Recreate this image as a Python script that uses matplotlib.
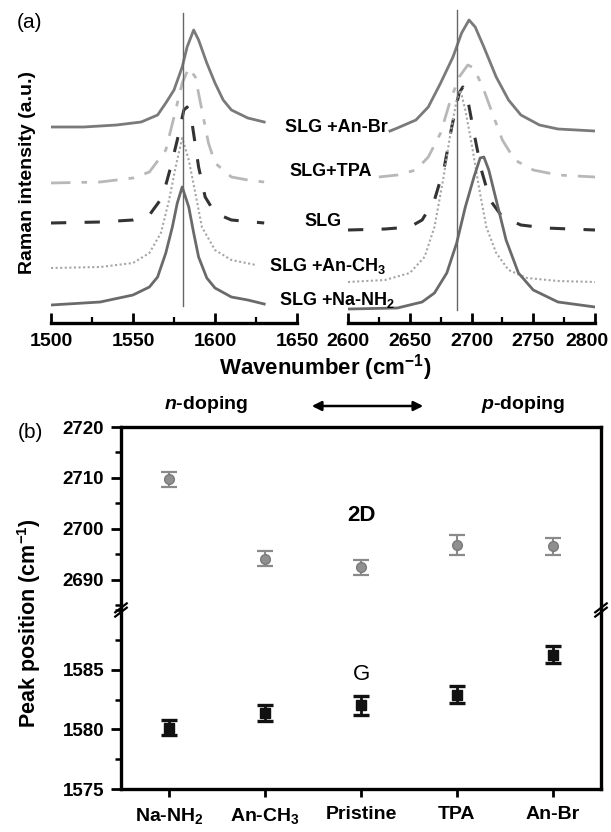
import numpy as np
import matplotlib.pyplot as plt
from matplotlib.ticker import MultipleLocator
from matplotlib.patches import FancyArrowPatch

plt.rcParams['font.family'] = ['Liberation Sans', 'DejaVu Sans']
plt.rcParams['font.weight'] = 'bold'
plt.rcParams['mathtext.fontset'] = 'custom'
plt.rcParams['mathtext.rm'] = 'Liberation Sans:bold'
plt.rcParams['mathtext.it'] = 'Liberation Sans:italic:bold'
plt.rcParams['mathtext.bf'] = 'Liberation Sans:bold'

# ---- panel (a): Raman spectra (intensity in a.u., offset stacked) ----
# G band region
anbr_g_x = [1500, 1520, 1540, 1555, 1565, 1570, 1575, 1580, 1583, 1587, 1590, 1595, 1600, 1605, 1610, 1620, 1630]
anbr_g_y = [196, 196, 198, 201, 208, 220, 233, 256, 276, 293, 283, 260, 240, 223, 213, 205, 201]
tpa_g_x = [1500, 1530, 1550, 1560, 1570, 1575, 1580, 1584, 1588, 1592, 1596, 1600, 1610, 1620, 1630]
tpa_g_y = [140, 141, 145, 151, 173, 206, 240, 255, 246, 213, 180, 160, 146, 143, 141]
slg_g_x = [1500, 1530, 1550, 1560, 1568, 1573, 1577, 1581, 1583, 1586, 1590, 1594, 1600, 1610, 1630]
slg_g_y = [100, 101, 103, 108, 126, 156, 183, 213, 216, 200, 156, 126, 110, 103, 100]
anch3_g_x = [1500, 1530, 1550, 1560, 1567, 1572, 1576, 1580, 1584, 1588, 1592, 1600, 1610, 1625]
anch3_g_y = [55, 56, 60, 70, 90, 123, 156, 185, 163, 130, 96, 73, 63, 58]
nanh2_g_x = [1500, 1530, 1550, 1560, 1565, 1570, 1574, 1577, 1580, 1584, 1587, 1590, 1595, 1600, 1610, 1620, 1630]
nanh2_g_y = [18, 21, 28, 36, 46, 70, 96, 120, 136, 116, 90, 66, 45, 35, 26, 23, 19]

# 2D band region
anbr_2d_x = [2634, 2640, 2655, 2665, 2675, 2685, 2692, 2698, 2703, 2710, 2720, 2730, 2740, 2755, 2770, 2800]
anbr_2d_y = [192, 195, 203, 216, 240, 266, 290, 303, 296, 276, 246, 223, 208, 198, 194, 192]
tpa_2d_x = [2625, 2640, 2655, 2665, 2675, 2683, 2690, 2697, 2702, 2710, 2718, 2725, 2735, 2750, 2770, 2800]
tpa_2d_y = [146, 148, 153, 166, 190, 223, 246, 258, 255, 233, 206, 183, 163, 153, 148, 146]
slg_2d_x = [2600, 2630, 2650, 2660, 2670, 2678, 2684, 2690, 2693, 2697, 2702, 2708, 2715, 2725, 2740, 2760, 2800]
slg_2d_y = [93, 94, 96, 103, 123, 156, 196, 230, 236, 223, 190, 153, 123, 106, 98, 95, 93]
anch3_2d_x = [2600, 2630, 2650, 2662, 2670, 2677, 2683, 2688, 2691, 2695, 2700, 2706, 2712, 2720, 2730, 2745, 2770, 2800]
anch3_2d_y = [41, 43, 50, 66, 96, 143, 190, 223, 233, 213, 180, 136, 96, 70, 53, 45, 42, 41]
nanh2_2d_x = [2600, 2640, 2660, 2670, 2680, 2688, 2695, 2702, 2707, 2710, 2714, 2720, 2728, 2738, 2750, 2770, 2800]
nanh2_2d_y = [14, 15, 21, 30, 50, 80, 116, 146, 165, 166, 153, 123, 83, 50, 33, 21, 16]

g_ref = 1580.5
d_ref = 2688.5

curve_labels = ['SLG +An-Br', 'SLG+TPA', 'SLG', r'SLG +An-CH$_3$', r'SLG +Na-NH$_2$']

g_ticks = [1500, 1550, 1600, 1650]
d_ticks = [2600, 2650, 2700, 2750, 2800]

# ---- panel (b): peak positions ----
samples = [r'Na-NH$_2$', r'An-CH$_3$', 'Pristine', 'TPA', 'An-Br']
pos_2d = [2709.7, 2694.1, 2692.4, 2696.8, 2696.5]
err_2d = [1.5, 1.5, 1.5, 1.9, 1.6]
pos_g = [1580.15, 1581.35, 1582.0, 1582.9, 1586.25]
err_g = [0.6, 0.65, 0.8, 0.7, 0.7]

W, H = 611, 832
fig = plt.figure(figsize=(W / 100, H / 100), dpi=100)


def box(x0, y0, x1, y1):
    return [x0 / W, 1 - y1 / H, (x1 - x0) / W, (y1 - y0) / H]


def fx(px):
    return px / W


def fy(py):
    return 1 - py / H


styles = [
    dict(color='#7a7a7a', lw=2.0, ls='-'),
    dict(color='#b8b8b8', lw=2.0, ls=(0, (7, 4, 2, 4))),
    dict(color='#333333', lw=2.2, ls=(0, (5, 6))),
    dict(color='#a5a5a5', lw=1.5, ls=(0, (1, 1.2))),
    dict(color='#6a6a6a', lw=2.0, ls='-'),
]

ax1 = fig.add_axes(box(51, 5, 297, 323))
ax2 = fig.add_axes(box(348, 5, 595, 323))

g_curves = [(anbr_g_x, anbr_g_y), (tpa_g_x, tpa_g_y), (slg_g_x, slg_g_y),
            (anch3_g_x, anch3_g_y), (nanh2_g_x, nanh2_g_y)]
d_curves = [(anbr_2d_x, anbr_2d_y), (tpa_2d_x, tpa_2d_y), (slg_2d_x, slg_2d_y),
            (anch3_2d_x, anch3_2d_y), (nanh2_2d_x, nanh2_2d_y)]

for (x, y), st in zip(g_curves, styles):
    ax1.plot(x, y, **st)
for (x, y), st in zip(d_curves, styles):
    ax2.plot(x, y, **st)

ax1.plot([g_ref, g_ref], [17, 310], color='#666666', lw=1.0)
ax2.plot([d_ref, d_ref], [13, 313], color='#666666', lw=1.0)

ax1.set_xlim(1500, 1650)
ax2.set_xlim(2600, 2800)
ax1.set_xticks(g_ticks)
ax2.set_xticks(d_ticks)
ax1.set_xticklabels([str(t) for t in g_ticks])
# last label sits a bit left of its tick, as in the original
ax2.set_xticklabels([str(t) for t in d_ticks[:-1]] + [''])
ax2.annotate(str(d_ticks[-1]), xy=(d_ticks[-1], 0), xycoords=('data', 'axes fraction'),
             xytext=(-6, -7), textcoords='offset points', ha='center', va='top', fontsize=14)
for ax in (ax1, ax2):
    ax.set_ylim(0, 318)
    for s in ('left', 'right', 'top'):
        ax.spines[s].set_visible(False)
    ax.spines['bottom'].set_linewidth(2.4)
    ax.set_yticks([])
    ax.xaxis.set_minor_locator(MultipleLocator(25))
    ax.tick_params(axis='x', which='major', direction='in', length=7, width=2, labelsize=14, pad=7)
    ax.tick_params(axis='x', which='minor', direction='in', length=4, width=1.6)
    ax.patch.set_alpha(0)

label_pos = [(336, 127), (331, 172), (323, 222), (328, 266), (337, 300)]
for txt, (px, py) in zip(curve_labels, label_pos):
    fig.text(fx(px), fy(py), txt, ha='center', va='center', fontsize=13)

fig.text(fx(325), fy(368), r'Wavenumber (cm$^{-1}$)', ha='center', va='center', fontsize=16)
fig.text(fx(28), fy(172), 'Raman intensity (a.u.)', ha='center', va='center',
         rotation=90, fontsize=14)
fig.text(fx(30), fy(22), '(a)', ha='center', va='center', fontsize=15, fontweight='normal')

# ---- panel (b) ----
xs = np.arange(1, len(samples) + 1)
axt = fig.add_axes(box(121, 427, 601, 610))
axb = fig.add_axes(box(121, 610, 601, 789))

axt.errorbar(xs, pos_2d, yerr=err_2d, fmt='o', color='#8a8a8a', mfc='#8f8f8f', mec='#7a7a7a',
             ms=7, elinewidth=1.5, capsize=6, capthick=1.6)
axb.errorbar(xs, pos_g, yerr=err_g, fmt='s', color='#111111', mfc='#111111', mec='#111111',
             ms=6.5, elinewidth=2, capsize=6, capthick=2.4)

for ax in (axt, axb):
    ax.set_xlim(0.5, 5.5)
    for s in ax.spines.values():
        s.set_linewidth(2.4)
axt.spines['bottom'].set_visible(False)
axb.spines['top'].set_visible(False)

axt.set_yticks([2690, 2700, 2710, 2720])
axt.yaxis.set_minor_locator(MultipleLocator(5))
axb.set_yticks([1575, 1580, 1585])
axb.yaxis.set_minor_locator(MultipleLocator(2.5))
axt.set_ylim(2684, 2720)
axb.set_ylim(1575, 1590)
axt.set_xticks([])
axb.set_xticks(xs)
axb.set_xticklabels(samples)
for ax in (axt, axb):
    ax.tick_params(axis='y', which='major', direction='out', length=7, width=2, labelsize=13.5, pad=5)
    ax.tick_params(axis='y', which='minor', direction='out', length=4, width=1.8)
axb.tick_params(axis='x', direction='out', length=6, width=2, labelsize=14, pad=6)

# axis break marks
for xpos in (0.0, 1.0):
    for dy in (-0.012, 0.012):
        axb.plot([xpos - 0.012, xpos + 0.012], [1.0 + dy - 0.025, 1.0 + dy + 0.025],
                 transform=axb.transAxes, color='black', lw=1.6, clip_on=False)

axt.text(3, 2702.5, '2D', ha='center', va='center', fontsize=16)
axb.text(3, 1584.6, 'G', ha='center', va='center', fontsize=16, fontweight='normal')

fig.text(fx(29), fy(623), r'Peak position (cm$^{-1}$)', ha='center', va='center',
         rotation=90, fontsize=15.5)
fig.text(fx(30), fy(432), '(b)', ha='center', va='center', fontsize=15, fontweight='normal')
fig.text(fx(206), fy(404), r'$\it{n}$-doping', ha='center', va='center', fontsize=14)
fig.text(fx(523), fy(404), r'$\it{p}$-doping', ha='center', va='center', fontsize=14)
fig.add_artist(FancyArrowPatch(
    (fx(309), fy(406)), (fx(426), fy(406)), transform=fig.transFigure,
    arrowstyle='<|-|>', mutation_scale=14, color='black', lw=1.8))

fig.savefig('out.png', dpi=100)
